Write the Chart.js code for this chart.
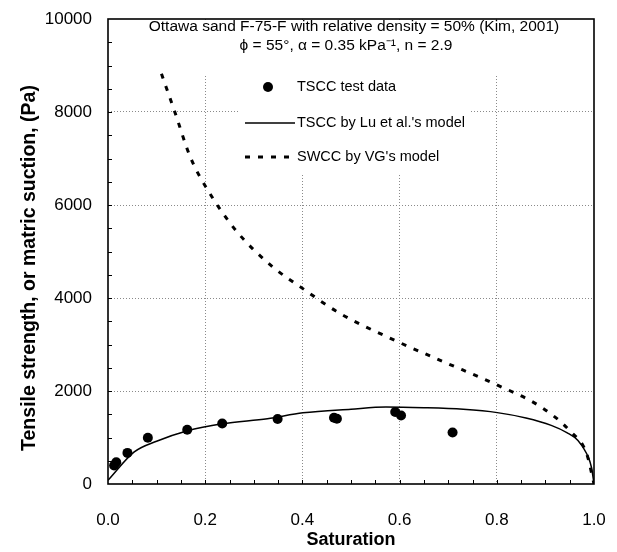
<!DOCTYPE html>
<html>
<head>
<meta charset="utf-8">
<script src="https://cdn.jsdelivr.net/npm/chart.js@4/dist/chart.umd.min.js"></script>
<style>
  html, body { margin: 0; padding: 0; background: #fff; }
  canvas { display: block; }
</style>
</head>
<body>
<canvas id="tsccChart" width="617" height="552"></canvas>
<script>
// TSCC test data (Kim, 2001)
const testSaturation = [0.0125, 0.017, 0.040, 0.082, 0.163, 0.235, 0.349, 0.465, 0.471, 0.591, 0.603, 0.709];
const testTensile = [396, 468, 669, 993, 1165, 1302, 1396, 1424, 1403, 1547, 1475, 1108];

// TSCC by Lu et al.'s model
const luSaturation = [0, 0.054, 0.10, 0.162, 0.235, 0.328, 0.401, 0.50, 0.572, 0.65, 0.731, 0.801, 0.86, 0.912, 0.945, 0.967, 0.985, 0.995, 1.0];
const luTensile = [80, 690, 920, 1140, 1295, 1405, 1530, 1610, 1655, 1640, 1605, 1535, 1420, 1260, 1100, 935, 650, 350, 0];

// SWCC by VG's model
const vgSaturation = [0.110, 0.138, 0.169, 0.203, 0.265, 0.340, 0.395, 0.477, 0.590, 0.690, 0.794, 0.891, 0.953, 0.985, 1.0];
const vgSuction = [8820, 7985, 7040, 6360, 5430, 4660, 4245, 3670, 3090, 2630, 2160, 1655, 1115, 650, 0];

const xTicks = [0, 0.2, 0.4, 0.6, 0.8, 1.0];
const yTicks = [0, 2000, 4000, 6000, 8000, 10000];

const titleLines = [
  'Ottawa sand F-75-F with relative density = 50% (Kim, 2001)',
  '\u03d5 = 55\u00b0, \u03b1 = 0.35 kPa\u207b\u00b9, n = 2.9'
];

const FONT = "'Liberation Sans', Arial, sans-serif";

function toPoints(xs, ys) {
  return xs.map((x, i) => ({ x: x, y: ys[i] }));
}

// grid dotted, but not on the frame edges
function gridColor(ctx) {
  const v = ctx.tick.value;
  const s = ctx.scale;
  if (v === s.min || v === s.max) return 'rgba(0,0,0,0)';
  return '#8a8a8a';
}

// white areas behind the title and the legend, then frame, ticks, texts
const insidePlugin = {
  id: 'insideDecor',
  beforeDatasetsDraw(chart) {
    const { ctx, chartArea: a } = chart;
    ctx.save();
    ctx.fillStyle = '#fff';
    ctx.fillRect(a.left + 1, a.top + 1, a.width - 2, 55);
    ctx.fillRect(238, a.top + 1, 232, 153);
    ctx.restore();
  },
  afterDatasetsDraw(chart) {
    const { ctx, chartArea: a, scales } = chart;
    const xs = scales.x, ys = scales.y;
    ctx.save();

    // minor ticks
    ctx.strokeStyle = '#000';
    ctx.lineWidth = 1;
    ctx.beginPath();
    for (let v = 500; v < 10000; v += 500) {
      const py = Math.round(ys.getPixelForValue(v)) + 0.5;
      ctx.moveTo(a.left, py);
      ctx.lineTo(a.left + 4, py);
    }
    for (let k = 1; k < 20; k++) {
      const px = Math.round(xs.getPixelForValue(k * 0.05)) + 0.5;
      ctx.moveTo(px, a.bottom);
      ctx.lineTo(px, a.bottom - 4);
    }
    ctx.stroke();

    // frame
    ctx.lineWidth = 1.6;
    ctx.strokeRect(a.left, a.top, a.width, a.height);

    // title inside the plot
    ctx.fillStyle = '#000';
    ctx.textAlign = 'center';
    ctx.textBaseline = 'middle';
    ctx.font = '15.5px ' + FONT;
    ctx.fillText(titleLines[0], 354, 27);
    ctx.fillText(titleLines[1], 346, 46);

    // legend inside the plot
    const rows = [87, 123, 157];
    ctx.textAlign = 'left';
    ctx.font = '14.5px ' + FONT;
    chart.data.datasets.forEach((ds, i) => {
      const y = rows[i];
      ctx.save();
      if (ds.showLine === false) {
        ctx.beginPath();
        ctx.arc(268, y, ds.pointRadius, 0, Math.PI * 2);
        ctx.fillStyle = ds.backgroundColor;
        ctx.fill();
      } else {
        ctx.strokeStyle = ds.borderColor;
        ctx.lineWidth = ds.borderWidth;
        ctx.setLineDash(ds.borderDash || []);
        ctx.beginPath();
        ctx.moveTo(245, y);
        ctx.lineTo(295, y);
        ctx.stroke();
      }
      ctx.restore();
      ctx.fillText(ds.label, 297, y);
    });

    // y axis title
    ctx.save();
    ctx.translate(30, 268);
    ctx.rotate(-Math.PI / 2);
    ctx.textAlign = 'center';
    ctx.textBaseline = 'middle';
    ctx.font = 'bold 19.5px ' + FONT;
    ctx.fillText('Tensile strength, or matric suction, (Pa)', 0, 0);
    ctx.restore();

    ctx.restore();
  }
};

const ctx = document.getElementById('tsccChart').getContext('2d');

const tsccChart = new Chart(ctx, {
  type: 'scatter',
  data: {
    datasets: [
      {
        label: 'TSCC test data',
        data: toPoints(testSaturation, testTensile),
        showLine: false,
        pointRadius: 5,
        pointHoverRadius: 5,
        backgroundColor: '#000',
        borderColor: '#000',
        borderWidth: 0
      },
      {
        label: "TSCC by Lu et al.'s model",
        data: toPoints(luSaturation, luTensile),
        showLine: true,
        pointRadius: 0,
        borderColor: '#000',
        backgroundColor: '#000',
        borderWidth: 1.5,
        cubicInterpolationMode: 'monotone'
      },
      {
        label: "SWCC by VG's model",
        data: toPoints(vgSaturation, vgSuction),
        showLine: true,
        pointRadius: 0,
        borderColor: '#000',
        backgroundColor: '#000',
        borderWidth: 3,
        borderDash: [5, 8],
        cubicInterpolationMode: 'monotone'
      }
    ]
  },
  options: {
    responsive: false,
    animation: false,
    devicePixelRatio: 1,
    layout: { padding: { top: 19, right: 23, left: 0, bottom: 0 } },
    plugins: {
      legend: { display: false },
      tooltip: { enabled: false }
    },
    scales: {
      x: {
        type: 'linear',
        min: 0,
        max: 1,
        afterBuildTicks: (scale) => { scale.ticks = xTicks.map(v => ({ value: v })); },
        afterFit: (scale) => {
          scale.height = 68;
          scale.paddingLeft = 0;
          scale.paddingRight = 0;
        },
        ticks: {
          color: '#000',
          font: { family: FONT, size: 17 },
          padding: 26,
          maxRotation: 0,
          callback: (v) => Number(v).toFixed(1)
        },
        grid: { color: gridColor, lineWidth: 1, drawTicks: false },
        border: { display: false, dash: [1, 2] },
        title: {
          display: true,
          text: 'Saturation',
          color: '#000',
          font: { family: FONT, size: 18, weight: 'bold' },
          padding: { top: 0, bottom: 1 }
        }
      },
      y: {
        type: 'linear',
        min: 0,
        max: 10000,
        afterBuildTicks: (scale) => { scale.ticks = yTicks.map(v => ({ value: v })); },
        afterFit: (scale) => {
          scale.width = 108;
          scale.paddingTop = 0;
          scale.paddingBottom = 0;
        },
        ticks: {
          color: '#000',
          font: { family: FONT, size: 17 },
          padding: 16,
          callback: (v) => String(v)
        },
        grid: { color: gridColor, lineWidth: 1, drawTicks: false },
        border: { display: false, dash: [1, 2] }
      }
    }
  },
  plugins: [insidePlugin]
});
</script>
</body>
</html>
